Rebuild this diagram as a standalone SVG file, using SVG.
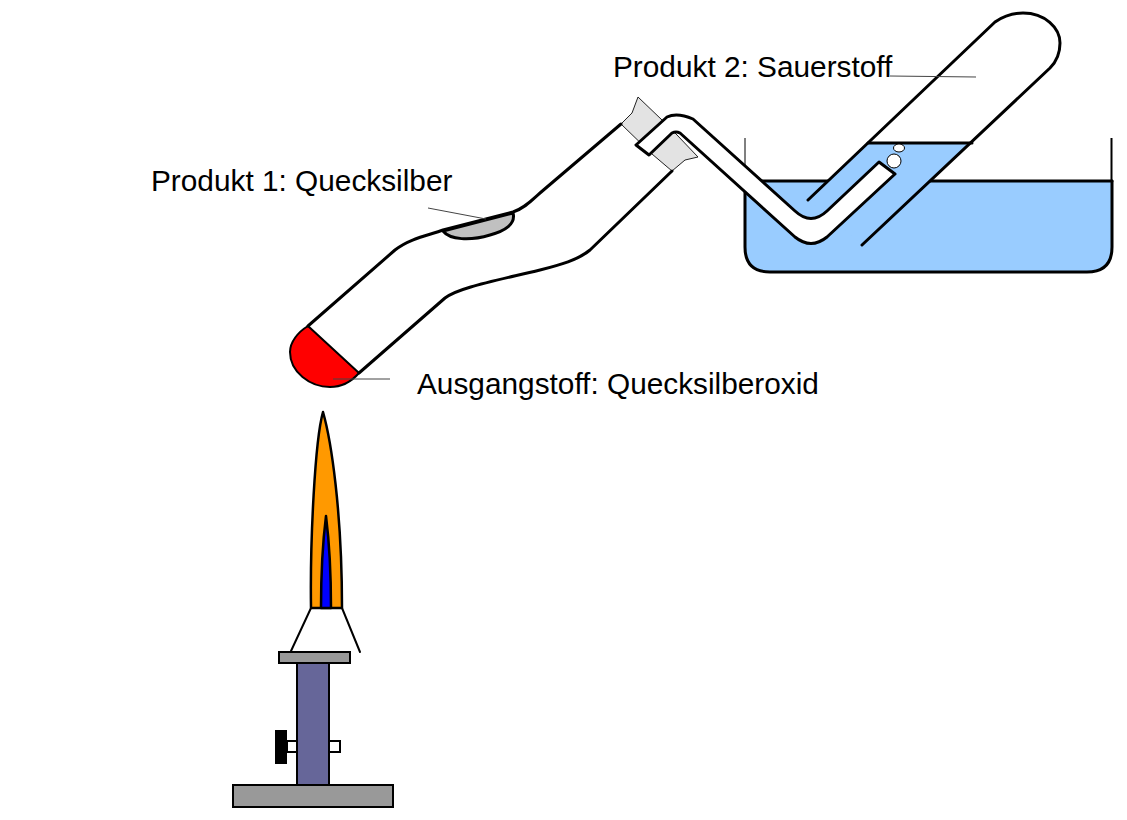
<svg xmlns="http://www.w3.org/2000/svg" width="1127" height="820" viewBox="0 0 1127 820">
<style>
.o{stroke:#000;stroke-width:3;stroke-linejoin:round;stroke-linecap:round;fill:none}
.l{stroke:#444;stroke-width:1;fill:none}
.t{font-family:"Liberation Sans",Arial,sans-serif;font-size:29.800px;fill:#000}
</style>
<rect width="1127" height="820" fill="#fff"/>
<g id="basin">
<path d="M745 181H1112V247Q1112 272 1087 272H770Q745 272 745 247Z" fill="#99ccff" stroke="none"/>
<path d="M745 138V181" class="o" style="stroke-width:1;stroke-linecap:butt"/>
<path d="M1111.500 138V181" class="o" style="stroke-width:2;stroke-linecap:butt"/>
<path d="M745 181V247Q745 272 770 272H1087Q1112 272 1112 247V181" class="o"/>
<path d="M745 181H829M930 181H1112" class="o"/>
</g>
<g id="test-tube">
<path d="M868 143H972L930 181L862 245L808 200Z" fill="#99ccff" stroke="none"/>
<path d="M868 143H972" class="o"/>
<path d="M808 200L995 22C1005 15 1015 13 1023 13C1045 13 1060 28 1060 43C1060 53 1056 62 1050 68L862 245" class="o"/>
<ellipse cx="899" cy="148" rx="5.500" ry="4" fill="#fff" stroke="#000" stroke-width="1"/>
<circle cx="894" cy="161" r="7" fill="#fff" stroke="#000" stroke-width="1"/>
</g>
<g id="stopper">
<path d="M621 124L632 113L638 97L662 120L677 135L698 157L685 160L672 171L652 154Z" fill="#e3e3e3" stroke="#222" stroke-width="1"/>
</g>
<g id="delivery-tube">
<path d="M636 145L667 117Q677 112 693 119L795 211Q811 226 827 211L879 162L895 174L827 237Q811 250 795 237L680 133Q676 131 672 133L649 155Z" class="o" style="fill:#fff"/>
</g>
<g id="flask">
<path d="M308 326C298 332 290 342 290 352C290 372 310 387 330 387C342 387 352 381 359 373Z" fill="#f00" stroke="#000" stroke-width="2" stroke-linejoin="round"/>
<path d="M443 231C450 240 470 241 490 235C505 231 516 224 513 213Z" class="o" style="fill:#c0c0c0"/>
<path d="M308 326L395 250C410 238 430 235 443 230L513 212C525 208 532 200 540 193L621 124" class="o"/>
<path d="M359 373L445 298C458 288 490 282 540 270C560 265 578 260 590 250L672 171" class="o"/>
</g>
<g id="flame">
<path d="M311 608C310 540 315 440 323 412C331 440 342 510 342 608Z" class="o" style="fill:#ff9900;stroke-width:2.500"/>
<path d="M321 608C321 570 323 540 326 516C329 540 331 570 331 608Z" class="o" style="fill:#00f;stroke-width:2.500"/>
</g>
<g id="burner">
<path d="M311 608L291 651M342 608L360 652" class="o" style="stroke-width:2"/>
<rect x="287" y="741" width="53" height="11" fill="#fff" stroke="#000" stroke-width="2"/>
<rect x="297" y="663" width="32" height="123" fill="#666699" stroke="#000" stroke-width="2"/>
<rect x="279" y="652" width="71" height="11" fill="#999" stroke="#000" stroke-width="2"/>
<rect x="233" y="785" width="160" height="22" fill="#999" stroke="#000" stroke-width="2"/>
<rect x="275" y="730" width="12" height="34" fill="#000"/>
</g>
<g id="connectors">
<path d="M428 208L486 219" class="l"/>
<path d="M333 379H390" class="l"/>
<path d="M890 76L976 77" class="l"/>
</g>
<g id="labels">
<text class="t" x="613" y="77">Produkt 2: Sauerstoff</text>
<text class="t" x="151" y="191">Produkt 1: Quecksilber</text>
<text class="t" x="417" y="394">Ausgangstoff: Quecksilberoxid</text>
</g>
</svg>
